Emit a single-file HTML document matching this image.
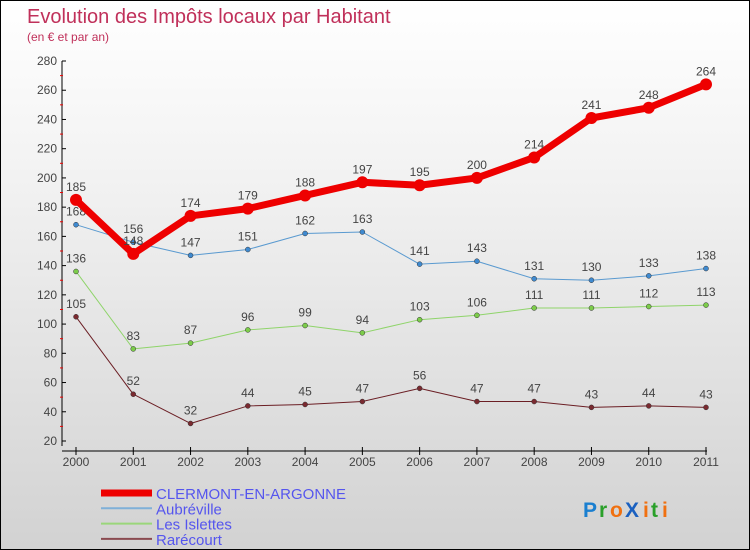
<!DOCTYPE html>
<html><head><meta charset="utf-8"><style>
body{margin:0}
#c{width:748px;height:548px;border:1px solid #000;background:linear-gradient(#fff,#f3f3f3 30%,#d2d2d2);position:relative;overflow:hidden;font-family:"Liberation Sans",sans-serif}
svg{position:absolute;left:0;top:0}
</style></head><body>
<div id="c">
<svg id="s" width="750" height="550">
<text x="26" y="22" font-size="20" fill="#c0305a">Evolution des Impôts locaux par Habitant</text>
<text x="26" y="40" font-size="12" fill="#c0305a">(en € et par an)</text>
<g font-size="21" font-weight="bold">
<text x="582" y="516" fill="#1a7fd0">P</text><text x="598" y="516" fill="#2aa02a">r</text><text x="609" y="516" fill="#f07010">o</text><text x="624" y="516" fill="#1a60c0">X</text><text x="642" y="516" fill="#f07010">i</text><text x="650" y="516" fill="#2aa02a">t</text><text x="661" y="516" fill="#f07010">i</text></g>
</svg></div>
<script>
const years=[2000,2001,2002,2003,2004,2005,2006,2007,2008,2009,2010,2011];
const clermont=[185,148,174,179,188,197,195,200,214,241,248,264];
const aubreville=[168,156,147,151,162,163,141,143,131,130,133,138];
const islettes=[136,83,87,96,99,94,103,106,111,111,112,113];
const rarecourt=[105,52,32,44,45,47,56,47,47,43,44,43];
const yTicks=[20,40,60,80,100,120,140,160,180,200,220,240,260,280];
const seriesNames=["CLERMONT-EN-ARGONNE","Aubréville","Les Islettes","Rarécourt"];
const NS="http://www.w3.org/2000/svg",s=document.getElementById('s');
const X=i=>75+i*(630/11), Y=v=>440-(v-20)*380/260;
function mk(t,a,p){const e=document.createElementNS(NS,t);for(const k in a)e.setAttribute(k,a[k]);(p||s).appendChild(e);return e;}
let e=mk('line',{x1:61,y1:60,x2:61,y2:445,stroke:'#000'});


e=mk('line',{x1:61,y1:450,x2:706,y2:450,stroke:'#000'});


yTicks.forEach((v,i)=>{mk('line',{x1:61,y1:Y(v),x2:65,y2:Y(v),stroke:'#000'});
 if(i<yTicks.length-1)mk('line',{x1:59,y1:Y(v+10),x2:62,y2:Y(v+10),stroke:'#e00'});
 const t=mk('text',{x:56,y:Y(v)+4,'font-size':12,fill:'#444','text-anchor':'end'});t.textContent=v;
 
 });
years.forEach((y,i)=>{mk('line',{x1:X(i),y1:446,x2:X(i),y2:454,stroke:'#000'});
 const t=mk('text',{x:X(i),y:465,'font-size':12,fill:'#444','text-anchor':'middle'});t.textContent=y;
 
 });
const defs=[[rarecourt,'#6b1e24',1,'#7a2a30',2.5],[islettes,'#8fd46a',1,'#7ccc4a',2.5],[aubreville,'#5a9ad0',1,'#3f8ad0',2.5],[clermont,'#ee0000',7,'#ee0000',6]];
const names=['rarecourt','les-islettes','aubreville','clermont-en-argonne'];
defs.forEach((d,k)=>{const g=mk('g',{});
 
 
 mk('polyline',{points:d[0].map((v,i)=>X(i)+','+Y(v)).join(' '),fill:'none',stroke:d[1],'stroke-width':d[2],'stroke-linejoin':'round'},g);
 d[0].forEach((v,i)=>{const c=mk('circle',{cx:X(i),cy:Y(v),r:d[4],fill:d[3],stroke:k==3?'none':'#333','stroke-width':0.5},g);
  
  
  const t=mk('text',{x:X(i),y:Y(v)-9,'font-size':12,fill:'#444','text-anchor':'middle'},g);t.textContent=v;});
});
const lc=['#ee0000','#7fb0d8','#9ad67a','#8a4a50'],lw=[7,2,2,2];
seriesNames.forEach((n,i)=>{const y=492+i*15.3;
 const g=mk('g',{});
 
 
 mk('line',{x1:100,y1:y,x2:151,y2:y,stroke:lc[i],'stroke-width':lw[i]},g);
 const t=mk('text',{x:155,y:y+6,'font-size':15,fill:'#5555ee'},g);t.textContent=n;});
</script></body></html>
